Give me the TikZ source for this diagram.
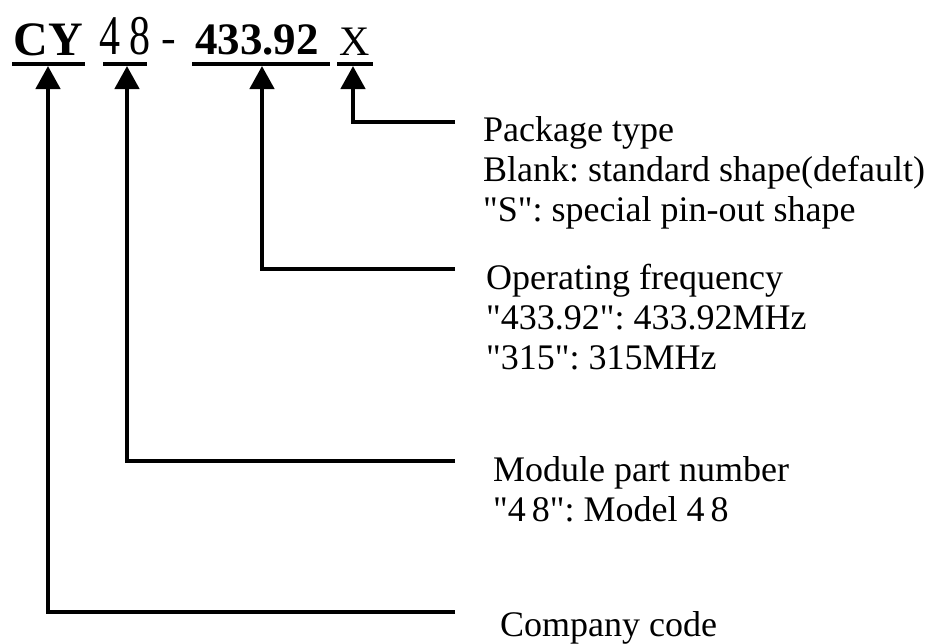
\documentclass[tikz,border=0pt]{standalone}
\usepackage{fontspec}
\setmainfont{Liberation Serif}[Ligatures=TeXOff]
\usetikzlibrary{arrows.meta}
\frenchspacing
\begin{document}
\begin{tikzpicture}[x=1pt,y=-1pt,
  conn/.style={line width=4.5pt, -{Triangle[length=23pt,width=24pt]}},
  uline/.style={line width=4pt},
  desc/.style={anchor=north west, align=left, inner sep=0pt,
    font=\fontsize{36}{40}\selectfont},
  code/.style={anchor=base, inner sep=0pt}]
\useasboundingbox (0,0) rectangle (936,643);

% code parts
\node[code, font=\fontsize{48}{48}\selectfont\bfseries] (cy) at (48.5,55) {CY};
\node[code, font=\fontsize{56}{56}\selectfont] (num) at (125,54) {\scalebox{0.75}[1]{4\hspace{12pt}8}};
\node[code, font=\fontsize{44}{44}\selectfont] (dash) at (169,52) {-};
\node[code, font=\fontsize{45}{45}\selectfont\bfseries] (freq) at (257,54) {433.92};
\node[code, font=\fontsize{42}{42}\selectfont] (pkg) at (355,55) {X};

% underlines
\coordinate (u1a) at (12,64);  \coordinate (u1b) at (85,64);
\coordinate (u2a) at (103,64); \coordinate (u2b) at (147,64);
\coordinate (u3a) at (192,64); \coordinate (u3b) at (330,64);
\coordinate (u4a) at (337,64); \coordinate (u4b) at (373,64);
\draw[uline] (u1a) -- (u1b);
\draw[uline] (u2a) -- (u2b);
\draw[uline] (u3a) -- (u3b);
\draw[uline] (u4a) -- (u4b);

% arrow tips
\coordinate (t1) at (48,66);
\coordinate (t2) at (127,66);
\coordinate (t3) at (262,66);
\coordinate (t4) at (353,66);

% line ends
\coordinate (e4) at (455,122);
\coordinate (e3) at (455,269);
\coordinate (e2) at (455,461);
\coordinate (e1) at (455,612);

\draw[conn] (e4) -| (t4);
\draw[conn] (e3) -| (t3);
\draw[conn] (e2) -| (t2);
\draw[conn] (e1) -| (t1);

% descriptions
\node[desc] (dpkg) at (483,116) {Package type\\Blank: standard shape(default)\\"S": special pin-out shape};
\node[desc] (dfreq) at (486,264) {Operating frequency\\"433.92": 433.92MHz\\"315": 315MHz};
\node[desc] (dnum) at (493,456) {Module part number\\"4\,8": Model 4\,8};
\node[desc] (dcy) at (500,611) {Company code};
\end{tikzpicture}
\end{document}
